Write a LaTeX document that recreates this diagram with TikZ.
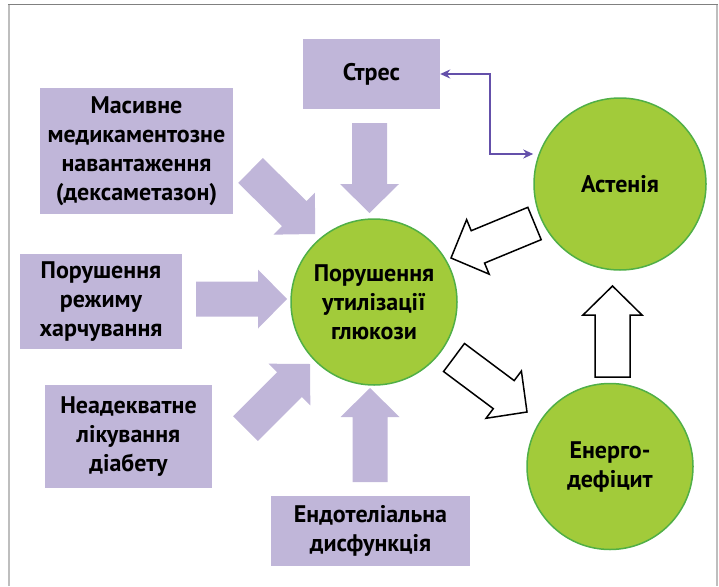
\documentclass[tikz,border=0pt]{standalone}
\usepackage{fontspec}
\setmainfont{PT Sans}
\usepackage{xcolor}
\usepackage{tikz}
\usetikzlibrary{positioning,calc,arrows.meta}

\definecolor{lavanda}{RGB}{192,182,217}
\definecolor{salat}{RGB}{162,203,58}
\definecolor{zelenyj}{RGB}{80,175,70}
\definecolor{fioletovyj}{RGB}{100,80,170}
\definecolor{ramka}{RGB}{190,190,190}

\tikzset{
  box/.style={fill=lavanda, inner sep=0pt, align=center, font=\bfseries\fontsize{24}{29}\selectfont},
  kolo/.style={circle, draw=zelenyj, line width=1.5pt, fill=salat, inner sep=0pt, align=center, font=\bfseries\fontsize{24}{29}\selectfont},
  bloklav/.style={fill=lavanda, draw=none},
  blokbila/.style={fill=white, draw=black, line width=1.5pt, line join=miter},
  zvjazok/.style={draw=fioletovyj, line width=2pt, {Stealth[length=10pt,width=9pt]}-{Stealth[length=10pt,width=9pt]}}
}

% block arrow: style, tail, tip
\newcommand{\blokstrilka}[3]{%
  \path[#1] let \p1=($(#3)-(#2)$), \n1={atan2(\y1,\x1)}, \n2={veclen(\x1,\y1)} in
    ($(#2)+(\n1+90:17.5pt)$)
    -- ($(#2)+(\n1:{\n2-29pt})+(\n1+90:17.5pt)$)
    -- ($(#2)+(\n1:{\n2-29pt})+(\n1+90:29.5pt)$)
    -- (#3)
    -- ($(#2)+(\n1:{\n2-29pt})+(\n1-90:29.5pt)$)
    -- ($(#2)+(\n1:{\n2-29pt})+(\n1-90:17.5pt)$)
    -- ($(#2)+(\n1-90:17.5pt)$) -- cycle;
}

\begin{document}
\begin{tikzpicture}[x=1pt, y=-1pt]
    \useasboundingbox (0,0) rectangle (719,586);

    % frame
    \draw[ramka, line width=2pt] (9,586) -- (9,4.5);
    \draw[ramka, line width=2pt] (717,4.5) -- (717,586);
    \draw[gray, line width=1.5pt] (8,4.5) -- (718,4.5);

    \node[box, minimum width=137, minimum height=70] (stres) at (371.5,74) {Стрес};
    \node[box, minimum width=193, minimum height=126] (masyvne) at (136.5,151) {Масивне\\медикаментозне\\навантаження\\(дексаметазон)};
    \node[box, minimum width=162, minimum height=95] (rezhym) at (101,301.5) {Порушення\\режиму\\харчування};
    \node[box, minimum width=167, minimum height=103] (likuvannja) at (128.5,436.5) {Неадекватне\\лікування\\діабету};
    \node[box, minimum width=199, minimum height=70] (endotelij) at (370.5,531) {Ендотеліальна\\дисфункція};

    \node[kolo, minimum size=166] (glukoza) at (374,302) {Порушення\\утилізації\\глюкози};
    \node[kolo, minimum size=172] (astenija) at (620,184) {Астенія};
    \node[kolo, minimum size=166] (energo) at (610,466.5) {Енерго-\\дефіцит};

    % ends of the block arrows
    \coordinate (stres-a) at (369.5,123);
    \coordinate (stres-b) at (369.5,213);
    \coordinate (masyvne-a) at (250.5,170.5);
    \coordinate (masyvne-b) at (315,234);
    \coordinate (rezhym-a) at (196,299);
    \coordinate (rezhym-b) at (287,299);
    \coordinate (likuvannja-a) at (245.5,428.5);
    \coordinate (likuvannja-b) at (310,364);
    \coordinate (endotelij-a) at (370,482);
    \coordinate (endotelij-b) at (370,388);
    \coordinate (astenija-a) at (534.5,223.5);
    \coordinate (astenija-b) at (451,258);
    \coordinate (glukoza-a) at (454,357.5);
    \coordinate (glukoza-b) at (527,412);
    \coordinate (energo-a) at (612.5,377);
    \coordinate (energo-b) at (612.5,286);

    \blokstrilka{bloklav}{stres-a}{stres-b}
    \blokstrilka{bloklav}{masyvne-a}{masyvne-b}
    \blokstrilka{bloklav}{rezhym-a}{rezhym-b}
    \blokstrilka{bloklav}{likuvannja-a}{likuvannja-b}
    \blokstrilka{bloklav}{endotelij-a}{endotelij-b}
    \blokstrilka{blokbila}{astenija-a}{astenija-b}
    \blokstrilka{blokbila}{glukoza-a}{glukoza-b}
    \blokstrilka{blokbila}{energo-a}{energo-b}

    \coordinate (kut) at (490,154);
    \draw[zvjazok] (stres.east) -| (kut) -- (kut -| astenija.west);
\end{tikzpicture}
\end{document}
